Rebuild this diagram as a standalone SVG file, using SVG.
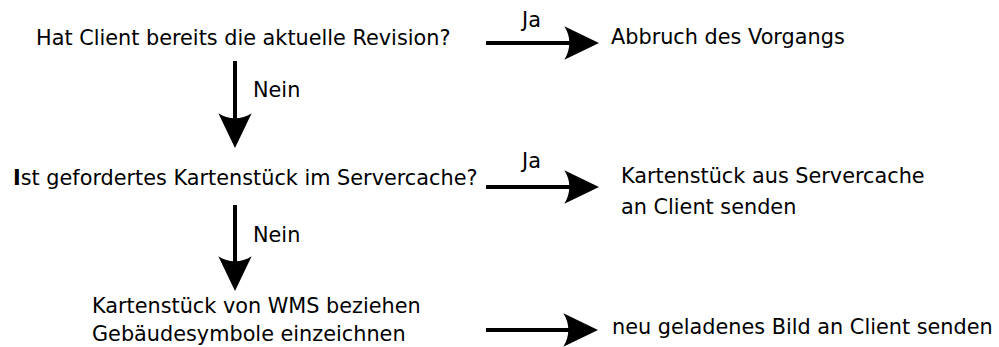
<svg xmlns="http://www.w3.org/2000/svg" width="999" height="347" viewBox="0 0 999 347">
<style>
text{font-family:"DejaVu Sans",Verdana,sans-serif;font-size:20.8px;fill:#000}
.c{stroke:#000;stroke-width:4;fill:none}
</style>
<defs>
<marker id="ah" markerUnits="userSpaceOnUse" orient="auto" markerWidth="40" markerHeight="40" refX="0" refY="0" viewBox="-10 -15 30 30" overflow="visible">
<path d="M18,0 L-8,-12.5 C-3,-5 -3,5 -8,12.5 Z" fill="#000"/>
</marker>
</defs>
<rect width="999" height="347" fill="#fff"/>
<g id="q1"><text x="36" y="45">Hat Client bereits die aktuelle Revision?</text></g>
<g id="abbruch"><text x="611" y="44">Abbruch des Vorgangs</text></g>
<g id="q2"><text x="13" y="185"><tspan font-weight="bold">I</tspan>st gefordertes Kartenstück im Servercache?</text></g>
<g id="cache"><text x="621" y="183">Kartenstück aus Servercache</text><text x="621" y="214">an Client senden</text></g>
<g id="wms"><text x="92" y="313">Kartenstück von WMS beziehen</text><text x="92" y="341">Gebäudesymbole einzeichnen</text></g>
<g id="senden"><text x="612" y="334">neu geladenes Bild an Client senden</text></g>
<g id="connectors">
<line class="c" x1="486" y1="43" x2="575" y2="43" marker-end="url(#ah)"/>
<line class="c" x1="235" y1="61" x2="235" y2="124" marker-end="url(#ah)"/>
<line class="c" x1="486" y1="187" x2="575" y2="187" marker-end="url(#ah)"/>
<line class="c" x1="235" y1="205" x2="235" y2="267" marker-end="url(#ah)"/>
<line class="c" x1="486" y1="330" x2="574" y2="330" marker-end="url(#ah)"/>
<text x="522" y="27">Ja</text>
<text x="253" y="97">Nein</text>
<text x="522" y="168">Ja</text>
<text x="253" y="242">Nein</text>
</g>
</svg>
